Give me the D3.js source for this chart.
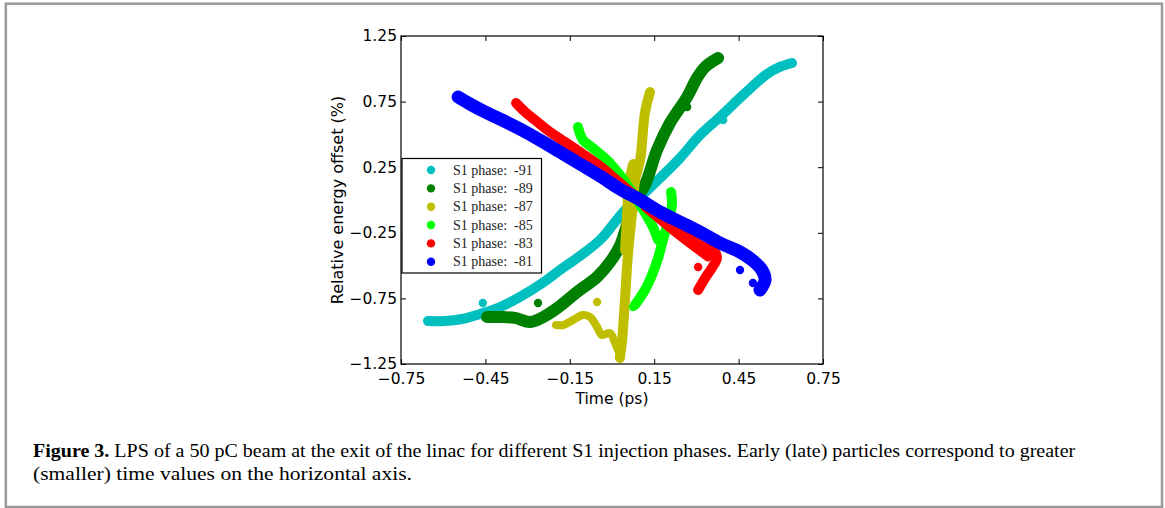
<!DOCTYPE html>
<html>
<head>
<meta charset="utf-8">
<script src="https://cdn.jsdelivr.net/npm/d3@7"></script>
<style>
  body { margin: 0; background: #fff; }
  svg { display: block; }
  .tick text { font-family: "DejaVu Sans", sans-serif; font-size: 15.5px; fill: #000; }
</style>
</head>
<body>
<svg id="canvas" width="1165" height="508"></svg>
<script>
// S1 injection phases, legend order
let phases = [-91, -89, -87, -85, -83, -81];
let colors = ['#00bfbf', '#008000', '#bfbf00', '#00ff00', '#ff0000', '#0000ff'];

let xTicks = [-0.75, -0.45, -0.15, 0.15, 0.45, 0.75];
let yTicks = [-1.25, -0.75, -0.25, 0.25, 0.75, 1.25];

// [time (ps), relative energy offset (%)] read along each particle band
let band91 = [[-0.654, -0.922], [-0.594, -0.922], [-0.533, -0.907], [-0.469, -0.869], [-0.398, -0.816],
  [-0.327, -0.739], [-0.252, -0.640], [-0.185, -0.534], [-0.114, -0.427], [-0.043, -0.305],
  [0.011, -0.168], [0.053, -0.061], [0.100, 0.023], [0.171, 0.168], [0.242, 0.320],
  [0.313, 0.495], [0.384, 0.633], [0.466, 0.800], [0.551, 0.960], [0.597, 1.014], [0.640, 1.044]];
let dots91 = [[-0.640, -0.922], [-0.459, -0.785], [0.395, 0.610]];

let band89 = [[-0.444, -0.892], [-0.398, -0.892], [-0.345, -0.899], [-0.291, -0.930], [-0.238, -0.884],
  [-0.185, -0.808], [-0.124, -0.701], [-0.053, -0.587], [-0.007, -0.473], [0.028, -0.351],
  [0.053, -0.191], [0.075, -0.038], [0.117, 0.114], [0.160, 0.381], [0.206, 0.587],
  [0.267, 0.785], [0.302, 0.930], [0.331, 1.014], [0.377, 1.082]];
let dots89 = [[-0.263, -0.785], [0.267, 0.709]];

let band87 = [[0.135, 0.823], [0.117, 0.663], [0.100, 0.305], [0.082, 0.152], [0.075, -0.023],
  [0.057, -0.404], [0.046, -0.762], [0.036, -1.067], [0.028, -1.204]];
let bulge87 = [[0.078, 0.267], [0.064, 0.114], [0.057, -0.114], [0.050, -0.381]];
let tail87 = [[-0.199, -0.953], [-0.174, -0.953], [-0.139, -0.915], [-0.103, -0.877], [-0.078, -0.892],
  [-0.053, -0.968], [-0.036, -1.029], [-0.007, -1.014], [0.011, -1.090], [0.028, -1.181]];
let dots87 = [[-0.053, -0.777]];

let band85 = [[-0.121, 0.556], [-0.103, 0.457], [-0.068, 0.396], [-0.018, 0.305], [0.028, 0.191],
  [0.071, 0.061], [0.107, -0.061], [0.142, -0.191], [0.164, -0.305]];
let lobe85 = [[0.210, 0.061], [0.213, -0.038], [0.199, -0.168], [0.181, -0.305], [0.164, -0.442],
  [0.142, -0.572], [0.117, -0.686], [0.082, -0.800]];
let dots85 = [[-0.007, 0.290], [0.075, -0.816]];

let band83 = [[-0.341, 0.739], [-0.309, 0.671], [-0.274, 0.610], [-0.220, 0.518], [-0.167, 0.442],
  [-0.114, 0.366], [-0.043, 0.259], [0.028, 0.130], [0.100, 0.000], [0.171, -0.114],
  [0.242, -0.229], [0.313, -0.343], [0.359, -0.381], [0.373, -0.442], [0.355, -0.518],
  [0.331, -0.595], [0.306, -0.686]];
let wedge83 = [[0.117, -0.053], [0.242, -0.274], [0.341, -0.434]];
let dots83 = [[0.306, -0.511]];

let band81 = [[-0.547, 0.785], [-0.505, 0.732], [-0.451, 0.671], [-0.398, 0.617], [-0.327, 0.541],
  [-0.256, 0.457], [-0.185, 0.366], [-0.114, 0.274], [-0.043, 0.183], [0.028, 0.084],
  [0.100, 0.000], [0.171, -0.091], [0.242, -0.168], [0.313, -0.244], [0.384, -0.328],
  [0.455, -0.396], [0.498, -0.457], [0.533, -0.534], [0.544, -0.610], [0.526, -0.686]];
let dots81 = [[0.455, -0.534], [0.501, -0.633]];

let captionLine1 = 'LPS of a 50 pC beam at the exit of the linac for different S1 injection phases. Early (late) particles correspond to greater';
let captionLine2 = '(smaller) time values on the horizontal axis.';

// strands drawn as thick round-capped bands, [points, band width]
let series = [
  { strands: [[band91, 10]], dots: dots91 },
  { strands: [[band89, 12]], dots: dots89 },
  { strands: [[band87, 10], [bulge87, 12], [tail87, 8]], dots: dots87 },
  { strands: [[band85, 10], [lobe85, 10]], dots: dots85 },
  { strands: [[band83, 10], [wedge83, 9]], dots: dots83 },
  { strands: [[band81, 13]], dots: dots81 }
];

let canvas = d3.select('#canvas');

let x = d3.scaleLinear().domain([-0.75, 0.75]).range([401, 823]);
let y = d3.scaleLinear().domain([-1.25, 1.25]).range([364, 36]);

// outer figure frame
canvas.append('rect')
  .attr('x', 5.8).attr('y', 3.7)
  .attr('width', 1156.2).attr('height', 503.3)
  .attr('fill', 'none')
  .attr('stroke', '#9a9a9a')
  .attr('stroke-width', 2.5);

let line = d3.line()
  .x(d => x(d[0]))
  .y(d => y(d[1]))
  .curve(d3.curveCatmullRom.alpha(0.5));

let plot = canvas.append('g');

series.forEach((s, i) => {
  let g = plot.append('g');
  s.strands.forEach(st => {
    g.append('path')
      .attr('d', line(st[0]))
      .attr('fill', 'none')
      .attr('stroke', colors[i])
      .attr('stroke-width', st[1])
      .attr('stroke-linecap', 'round')
      .attr('stroke-linejoin', 'round');
  });
  g.selectAll('circle')
    .data(s.dots)
    .enter()
    .append('circle')
    .attr('cx', d => x(d[0]))
    .attr('cy', d => y(d[1]))
    .attr('r', 4.2)
    .attr('fill', colors[i]);
});

// axes, ticks pointing inwards on all four sides
let fmt = d3.format('.2f');

canvas.append('g')
  .attr('transform', 'translate(0,364)')
  .call(d3.axisBottom(x).tickValues(xTicks).tickFormat(fmt).tickSizeInner(-5).tickSizeOuter(0).tickPadding(9));
canvas.append('g')
  .attr('transform', 'translate(0,36)')
  .call(d3.axisTop(x).tickValues(xTicks).tickFormat('').tickSizeInner(-5).tickSizeOuter(0));
canvas.append('g')
  .attr('transform', 'translate(401,0)')
  .call(d3.axisLeft(y).tickValues(yTicks).tickFormat(fmt).tickSizeInner(-5).tickSizeOuter(0).tickPadding(4));
canvas.append('g')
  .attr('transform', 'translate(823,0)')
  .call(d3.axisRight(y).tickValues(yTicks).tickFormat('').tickSizeInner(-5).tickSizeOuter(0));

canvas.selectAll('.domain').remove();
canvas.selectAll('.tick line').attr('stroke', '#000').attr('stroke-width', 1);

canvas.append('rect')
  .attr('x', 401).attr('y', 36)
  .attr('width', 422).attr('height', 328)
  .attr('fill', 'none')
  .attr('stroke', '#000')
  .attr('stroke-width', 1.2);

canvas.append('text')
  .attr('x', 612).attr('y', 404)
  .attr('text-anchor', 'middle')
  .style('font-family', '"DejaVu Sans", sans-serif')
  .style('font-size', '15.5px')
  .text('Time (ps)');

canvas.append('text')
  .attr('transform', 'translate(343,200) rotate(-90)')
  .attr('text-anchor', 'middle')
  .style('font-family', '"DejaVu Sans", sans-serif')
  .style('font-size', '16px')
  .text('Relative energy offset (%)');

// legend
let legend = canvas.append('g');
legend.append('rect')
  .attr('x', 402).attr('y', 158.5)
  .attr('width', 139.5).attr('height', 114.5)
  .attr('fill', '#fff')
  .attr('stroke', '#000')
  .attr('stroke-width', 1.2);

let rows = legend.selectAll('g.row')
  .data(phases)
  .enter()
  .append('g')
  .attr('class', 'row')
  .attr('transform', (d, i) => 'translate(0,' + (170 + i * 18.35) + ')');

rows.append('circle')
  .attr('cx', 431).attr('cy', 0)
  .attr('r', 4.2)
  .attr('fill', (d, i) => colors[i]);

rows.append('text')
  .attr('x', 453).attr('y', 4.5)
  .style('font-family', '"Liberation Serif", serif')
  .style('font-size', '14px')
  .style('fill', '#222')
  .attr('xml:space', 'preserve')
  .text(d => 'S1 phase:  ' + d);

// caption, squeezed to the width of the original condensed face
let drawCaption = (parts, yPos, target) => {
  let t = canvas.append('text')
    .style('font-family', '"Liberation Serif", serif')
    .style('font-size', '18px')
    .attr('xml:space', 'preserve');
  parts.forEach(p => {
    t.append('tspan').style('font-weight', p[1] ? 'bold' : 'normal').text(p[0]);
  });
  let w = t.node().getBBox().width;
  t.attr('transform', 'translate(33,' + yPos + ') scale(' + (target / w) + ',1)');
};

drawCaption([['Figure 3.', true], [' ' + captionLine1, false]], 457, 1043);
drawCaption([[captionLine2, false]], 480, 379);
</script>
</body>
</html>
